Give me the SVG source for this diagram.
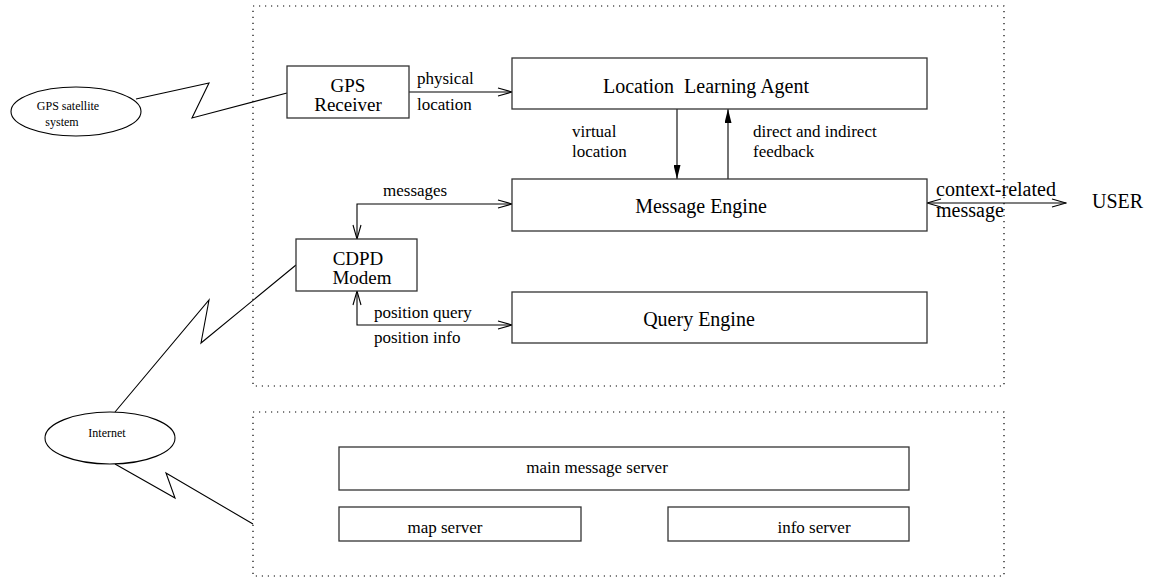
<svg xmlns="http://www.w3.org/2000/svg" width="1152" height="578" viewBox="0 0 1152 578">
<defs>
<style>
.box{fill:#fff;stroke:#333;stroke-width:1.3}
.dot{fill:none;stroke:#000;stroke-width:1.2;stroke-dasharray:1.2 4.8}
.ln{fill:none;stroke:#000;stroke-width:1.1}
.t{font-family:"Liberation Serif","Times New Roman",serif;fill:#000}
.big{font-size:20px}
.two{font-size:19px}
.lab{font-size:17px}
.sm{font-size:12px}
</style>
<marker id="open" viewBox="0 0 16 10" refX="15" refY="5" markerWidth="16" markerHeight="10" markerUnits="userSpaceOnUse" orient="auto-start-reverse">
<path d="M1,1 L15,5 L1,9" fill="none" stroke="#000" stroke-width="1.1"/>
</marker>
<marker id="fill" viewBox="0 0 14 7" refX="14" refY="3.5" markerWidth="14" markerHeight="7" markerUnits="userSpaceOnUse" orient="auto">
<path d="M0,0 L14,3.5 L0,7 z" fill="#000"/>
</marker>
</defs>
<rect width="1152" height="578" fill="#fff"/>

<g id="mobile-unit"><rect class="dot" x="253" y="6" width="751" height="380"/></g>
<g id="server-side"><rect class="dot" x="253" y="412" width="751" height="164"/></g>

<g id="connectors">
<polyline class="ln" points="136,99 209,83 192,118 287,93"/>
<polyline class="ln" points="296,265 201,343 209,300 115,412"/>
<polyline class="ln" points="115,464 175,498 166,473 253,524"/>
<line class="ln" x1="409" y1="92" x2="512" y2="92" marker-end="url(#open)"/>
<line class="ln" x1="677" y1="109" x2="677" y2="179" marker-end="url(#fill)"/>
<line class="ln" x1="728" y1="179" x2="728" y2="109" marker-end="url(#fill)"/>
<polyline class="ln" points="357,239 357,204 512,204" marker-start="url(#open)" marker-end="url(#open)"/>
<polyline class="ln" points="357,291 357,325 512,325" marker-start="url(#open)" marker-end="url(#open)"/>
<line class="ln" x1="927" y1="203" x2="1066" y2="203" marker-start="url(#open)" marker-end="url(#open)"/>
<text class="t lab" x="417" y="84">physical</text>
<text class="t lab" x="417" y="110">location</text>
<text class="t lab" x="572" y="137">virtual</text>
<text class="t lab" x="572" y="157">location</text>
<text class="t lab" x="753" y="137">direct and indirect</text>
<text class="t lab" x="753" y="157">feedback</text>
<text class="t lab" x="383" y="196">messages</text>
<text class="t lab" x="374" y="318">position query</text>
<text class="t lab" x="374" y="343">position info</text>
<text class="t big" x="936" y="196">context-related</text>
<text class="t big" x="936" y="217">message</text>
</g>

<g id="gps-satellite">
<ellipse cx="76" cy="111.5" rx="65" ry="24.5" fill="#fff" stroke="#000" stroke-width="1.1"/>
<text class="t sm" x="68" y="110" text-anchor="middle">GPS satellite</text>
<text class="t sm" x="62" y="126" text-anchor="middle">system</text>
</g>

<g id="internet">
<ellipse cx="110" cy="438" rx="65" ry="26" fill="#fff" stroke="#000" stroke-width="1.1"/>
<text class="t sm" x="107" y="437" text-anchor="middle">Internet</text>
</g>

<g id="gps-receiver">
<rect class="box" x="287" y="66" width="122" height="52"/>
<text class="t two" x="348" y="92" text-anchor="middle">GPS</text>
<text class="t two" x="348" y="111" text-anchor="middle">Receiver</text>
</g>

<g id="cdpd-modem">
<rect class="box" x="296" y="239" width="121" height="52"/>
<text class="t two" x="358" y="265" text-anchor="middle">CDPD</text>
<text class="t two" x="362" y="284" text-anchor="middle">Modem</text>
</g>

<g id="location-learning-agent">
<rect class="box" x="512" y="58" width="415" height="51"/>
<text class="t big" x="706" y="93" text-anchor="middle" xml:space="preserve">Location  Learning Agent</text>
</g>

<g id="message-engine">
<rect class="box" x="512" y="179" width="415" height="52"/>
<text class="t big" x="701" y="213" text-anchor="middle">Message Engine</text>
</g>

<g id="query-engine">
<rect class="box" x="512" y="292" width="415" height="51"/>
<text class="t big" x="699" y="326" text-anchor="middle">Query Engine</text>
</g>

<g id="user">
<text class="t big" x="1092" y="208">USER</text>
</g>

<g id="main-message-server">
<rect class="box" x="339" y="447" width="570" height="43"/>
<text class="t lab" x="597" y="473" text-anchor="middle">main message server</text>
</g>

<g id="map-server">
<rect class="box" x="339" y="507" width="242" height="34"/>
<text class="t lab" x="445" y="533" text-anchor="middle">map server</text>
</g>

<g id="info-server">
<rect class="box" x="668" y="507" width="241" height="34"/>
<text class="t lab" x="814" y="533" text-anchor="middle">info server</text>
</g>
</svg>
